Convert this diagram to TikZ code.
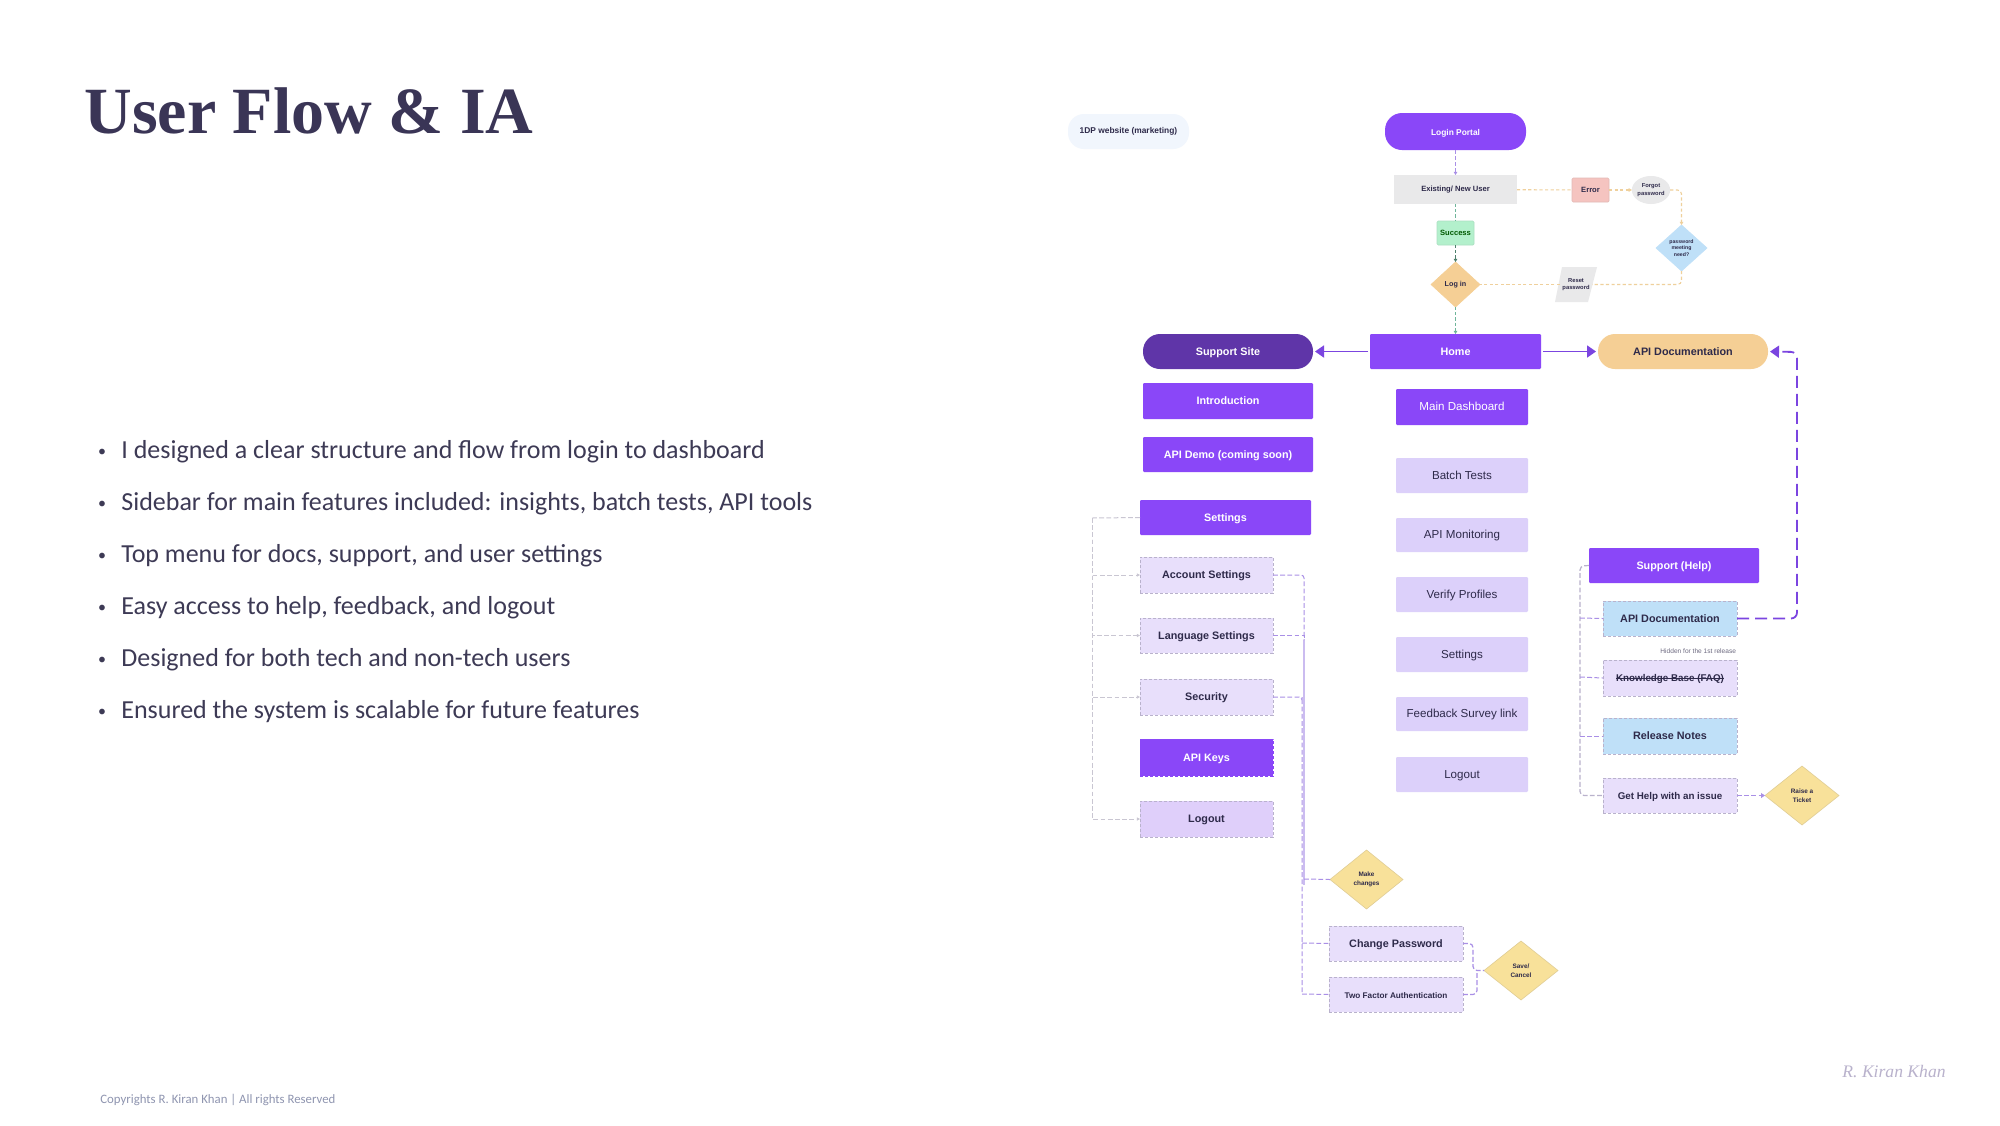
\documentclass[tikz,border=0pt]{standalone}
\usepackage{fontspec}
\setmainfont{Liberation Sans}
\newfontfamily\titlef{Liberation Serif}
\newfontfamily\bodyf{Carlito}
\usetikzlibrary{shapes.geometric,arrows.meta}
\definecolor{vio}{HTML}{8A47F8}
\definecolor{viod}{HTML}{5F35A8}
\definecolor{lil}{HTML}{DCD0FA}
\definecolor{lill}{HTML}{E8DFFB}
\definecolor{lilm}{HTML}{DFCFFA}
\definecolor{sky}{HTML}{BFE0F8}
\definecolor{peach}{HTML}{F5CF95}
\definecolor{yel}{HTML}{F8E19A}
\definecolor{gry}{HTML}{E9E9EA}
\definecolor{grn}{HTML}{B3F0CC}
\definecolor{rd}{HTML}{F5C4C0}
\definecolor{pale}{HTML}{F1F6FD}
\definecolor{ink}{HTML}{2E2A4A}
\definecolor{titlec}{HTML}{3A3556}
\definecolor{bodyc}{HTML}{3D3A55}
\definecolor{copyc}{HTML}{8F95B0}
\definecolor{dashb}{HTML}{B9B2CC}
\definecolor{dashl}{HTML}{C9C6D2}
\definecolor{lnp}{HTML}{7B45E0}
\definecolor{lnm}{HTML}{A98FE6}
\definecolor{lnpe}{HTML}{EFD09C}
\definecolor{lnt}{HTML}{6FB59A}
\newcommand{\bx}[7]{\node[#1,minimum width={(#5-#3)*0.5pt},minimum height={(#6-#4)*0.5pt}] (#2) at ({(#3+#5)/2},{(#4+#6)/2}) {#7};}
\newcommand{\strk}[1]{\setbox0=\hbox{#1}\rlap{\raisebox{1.6pt}{\rule{\wd0}{0.4pt}}}\box0}
\tikzset{
  base/.style={inner sep=0pt,outer sep=0pt,align=center,text=ink,font=\fontsize{5.6}{6.6}\selectfont},
  oneline/.style={text height=4.4pt,text depth=0.6pt},
  strong/.style={base,oneline,rectangle,rounded corners=0.6pt,fill=vio,text=white,font=\fontsize{5.4}{6.4}\selectfont\bfseries},
  pill/.style={strong,rounded corners=8.5pt},
  mainbox/.style={base,oneline,rectangle,rounded corners=0.6pt,fill=lil,text=ink,font=\fontsize{5.8}{6.8}\selectfont},
  dbox/.style={base,oneline,rectangle,draw=dashb,line width=0.5pt,dash pattern=on 1.6pt off 0.9pt,fill=lill,font=\fontsize{5.4}{6.4}\selectfont\bfseries},
  dia/.style={base,diamond,shape aspect=1,fill=yel,draw=yel!80!gray,line width=0.3pt,font=\fontsize{3.2}{4.2}\selectfont\bfseries},
  tinyb/.style={base,rectangle,font=\fontsize{3.4}{4.4}\selectfont\bfseries},
  lineg/.style={dashl,line width=0.5pt,dash pattern=on 2.4pt off 1.2pt,-{Triangle[length=1.6pt,width=1.6pt]}},
  linem/.style={lnm,line width=0.5pt,dash pattern=on 2.4pt off 1.2pt},
  lineh/.style={lnm,line width=0.6pt,dash pattern=on 2.4pt off 1.2pt,rounded corners=2pt},
  linep/.style={lnpe,line width=0.55pt,dash pattern=on 1.6pt off 1.2pt,rounded corners=2pt},
  linet/.style={lnt,line width=0.55pt,dash pattern=on 1.6pt off 1pt},
  bigarrow/.style={lnp,line width=0.9pt,-{Triangle[length=4.5pt,width=6pt]}},
  tagline/.style={inner sep=0pt,anchor=base west,text=bodyc,font=\bodyf\fontsize{13}{15}\selectfont},
  bullet/.style={inner sep=0pt,anchor=base,text=bodyc,font=\bodyf\fontsize{8}{10}\selectfont},
}
\begin{document}
\begin{tikzpicture}[x=0.5pt,y=-0.5pt]
\useasboundingbox (0,0) rectangle (2000,1125);
\fill[white] (0,0) rectangle (2000,1125);

% left column texts
\node[inner sep=0pt,anchor=base west,text=titlec,font=\titlef\fontsize{33}{36}\selectfont\bfseries] (title) at (84,133) {User Flow \& IA};
\node[bullet] (b1) at (102,456) {•}; \node[tagline] (t1) at (121,458) {I designed a clear structure and flow from login to dashboard};
\node[bullet] (b2) at (102,508) {•}; \node[tagline] (t2) at (121,510) {Sidebar for main features included: insights, batch tests, API tools};
\node[bullet] (b3) at (102,560) {•}; \node[tagline] (t3) at (121,562) {Top menu for docs, support, and user settings};
\node[bullet] (b4) at (102,612) {•}; \node[tagline] (t4) at (121,614) {Easy access to help, feedback, and logout};
\node[bullet] (b5) at (102,664) {•}; \node[tagline] (t5) at (121,666) {Designed for both tech and non-tech users};
\node[bullet] (b6) at (102,716) {•}; \node[tagline] (t6) at (121,718) {Ensured the system is scalable for future features};
\node[inner sep=0pt,anchor=base west,text=copyc,font=\bodyf\fontsize{6.4}{7}\selectfont] (copy) at (100,1103) {Copyrights R. Kiran Khan | All rights Reserved};
\node[inner sep=0pt,text=dashb,font=\titlef\fontsize{8.8}{10}\selectfont\itshape] (sign) at (1894,1071) {R. Kiran Khan};

% top flow
\bx{base,rectangle,rounded corners=8pt,fill=pale,font=\fontsize{4.2}{5}\selectfont\bfseries}{pale1}{1068}{114}{1189}{149}{1DP website (marketing)}
\bx{pill,rounded corners=8.5pt,font=\fontsize{4.2}{5}\selectfont\bfseries}{login}{1385}{113}{1526}{150}{Login Portal}
\bx{tinyb,fill=gry,font=\fontsize{3.8}{4.8}\selectfont\bfseries}{exist}{1394}{175}{1517}{204}{Existing/ New User}
\bx{tinyb,fill=rd,draw=rd!85!gray,line width=0.3pt,rounded corners=0.6pt,font=\fontsize{3.8}{4.8}\selectfont\bfseries}{err}{1572}{178}{1609}{202}{Error}
\node[tinyb,ellipse,fill=gry,minimum width=18pt,minimum height=14pt,font=\fontsize{2.9}{3.9}\selectfont\bfseries] (forgot) at (1651,190) {Forgot\\password};
\bx{tinyb,fill=grn,draw=grn!85!gray,line width=0.3pt,rounded corners=0.6pt,text=green!35!black,font=\fontsize{3.8}{4.8}\selectfont\bfseries}{succ}{1437}{221}{1474}{245}{Success}
\bx{dia,fill=peach,draw=peach,font=\fontsize{3.6}{4.6}\selectfont\bfseries}{logn}{1431}{262}{1480}{307}{Log in}
\bx{dia,fill=sky,draw=sky,font=\fontsize{2.6}{3.4}\selectfont\bfseries}{pw}{1656}{225}{1707}{271}{password\\meeting\\need?}
\fill[gry] (1562,267) -- (1597,267) -- (1588,302) -- (1555,302) -- cycle;
\bx{tinyb,font=\fontsize{2.9}{3.9}\selectfont\bfseries}{reset}{1560}{270}{1592}{299}{Reset\\password}

% main row
\bx{strong,fill=viod,rounded corners=8.5pt}{supp}{1143}{334}{1313}{369}{Support Site}
\bx{strong}{home}{1370}{334}{1541}{369}{Home}
\bx{pill,fill=peach,text=ink}{apitop}{1598}{334}{1768}{369}{API Documentation}

% support column
\bx{strong}{intro}{1143}{383}{1313}{419}{Introduction}
\bx{strong}{demo}{1143}{437}{1313}{472}{API Demo (coming soon)}
\bx{strong}{sset}{1140}{500}{1311}{535}{Settings}
\bx{dbox}{acct}{1140}{557}{1273}{593}{Account Settings}
\bx{dbox}{lang}{1140}{618}{1273}{653}{Language Settings}
\bx{dbox}{sec}{1140}{679}{1273}{715}{Security}
\bx{dbox,fill=vio,text=white,draw=vio}{keys}{1140}{739}{1273}{776}{API Keys}
\bx{dbox,fill=lilm}{slog}{1140}{801}{1273}{837}{Logout}

% main column
\bx{mainbox,fill=vio,text=white}{dash}{1396}{389}{1528}{425}{Main Dashboard}
\bx{mainbox}{batch}{1396}{458}{1528}{493}{Batch Tests}
\bx{mainbox}{mon}{1396}{518}{1528}{552}{API Monitoring}
\bx{mainbox}{ver}{1396}{577}{1528}{612}{Verify Profiles}
\bx{mainbox}{mset}{1396}{637}{1528}{672}{Settings}
\bx{mainbox}{feed}{1396}{697}{1528}{731}{Feedback Survey link}
\bx{mainbox}{mlog}{1396}{757}{1528}{792}{Logout}

% support help column
\bx{strong}{help}{1589}{548}{1759}{583}{Support (Help)}
\bx{dbox,fill=sky}{apid}{1603}{601}{1737}{636}{API Documentation}
\node[base,anchor=east,text=ink!70!white,font=\fontsize{3.3}{4}\selectfont] (hid) at (1736,651) {Hidden for the 1st release};
\bx{dbox,font=\fontsize{4.9}{5.9}\selectfont\bfseries}{kb}{1603}{660}{1737}{696}{\strk{Knowledge Base (FAQ)}}
\bx{dbox,fill=sky}{rel}{1603}{718}{1737}{754}{Release Notes}
\bx{dbox,font=\fontsize{4.9}{5.9}\selectfont\bfseries}{ghelp}{1603}{778}{1737}{813}{Get Help with an issue}
\bx{dia}{raise}{1765}{766}{1839}{825}{Raise a\\Ticket}

% lower sub flow
\bx{dia}{make}{1330}{850}{1403}{909}{Make\\changes}
\bx{dbox}{chpw}{1329}{926}{1463}{961}{Change Password}
\bx{dbox,font=\fontsize{4.1}{5.1}\selectfont\bfseries}{tfa}{1329}{977}{1463}{1012}{Two Factor Authentication}
\bx{dia}{save}{1484}{941}{1558}{1000}{Save/\\Cancel}

% connectors: top flow
\draw[lnm,line width=0.5pt,dash pattern=on 2pt off 1pt,-{Triangle[length=1.6pt,width=1.8pt]}] (login) -- (exist);
\draw[linet] (exist) -- (succ);
\draw[linet,lnt!70!black,-{Triangle[length=1.6pt,width=1.8pt]}] (succ) -- (logn);
\draw[linet,-{Triangle[length=1.6pt,width=1.8pt]}] (logn) -- (home);
\draw[linep] (exist) -- (err);
\draw[linep,-{Triangle[length=1.6pt,width=1.8pt]}] (err) -- (forgot);
\draw[linep,-{Triangle[length=1.6pt,width=1.8pt]}] (forgot) -- (forgot -| pw) -- (pw);
\draw[linep] (pw) |- (reset);
\draw[linep] (reset) -- (logn);

% main arrows
\draw[bigarrow,shorten >=1pt,shorten <=1pt] (home) -- (supp);
\draw[bigarrow,shorten >=1pt,shorten <=1pt] (home) -- (apitop);
\coordinate (rt) at (1797,352);
\draw[lnp,line width=0.9pt,dash pattern=on 6pt off 3pt,rounded corners=3pt,-{Triangle[length=4.5pt,width=6pt]},shorten >=1pt] (apid.east) -| (rt) -- (apitop.east);

% settings bus (left)
\coordinate (bl) at (1092,518);
\draw[lineg,-] (sset.west) -- (bl);
\draw[lineg] (bl) |- (acct.west);
\draw[lineg] (bl) |- (lang.west);
\draw[lineg] (bl) |- (sec.west);
\draw[lineg] (bl) |- (slog.west);

% settings bus (right)
\coordinate (br1) at (1304,640);
\coordinate (br2) at (1302,700);
\draw[lnm!60!white,line width=0.6pt] (1304,640) -- (1304,885);
\draw[linem,rounded corners=1.5pt] (acct.east) -| (br1);
\draw[linem] (lang.east) -| (br1);
\draw[linem,rounded corners=1.5pt] (sec.east) -| (br2) -- (1302,994);
\draw[linem] (1304,879) -- (make.west);
\draw[linem] (1302,943) -- (chpw.west);
\draw[linem] (1302,994) -- (tfa.west);

% to save/cancel
\draw[lineh] (chpw.east) -- ++(10,0) |- (save.west);
\draw[lineh] (tfa.east) -- ++(14,0) -- ++(0,-24);

% support help bus
\coordinate (bh) at (1580,566);
\draw[lineh,dashb,rounded corners=2pt] (help.west) -- (bh) |- (ghelp.west);
\draw[linem] (1580,618) -- (apid.west);
\draw[linem] (1580,677) -- (kb.west);
\draw[linem] (1580,736) -- (rel.west);
\draw[linem,-{Triangle[length=2pt,width=2.4pt]}] (ghelp.east) -- (raise.west);
\end{tikzpicture}
\end{document}
